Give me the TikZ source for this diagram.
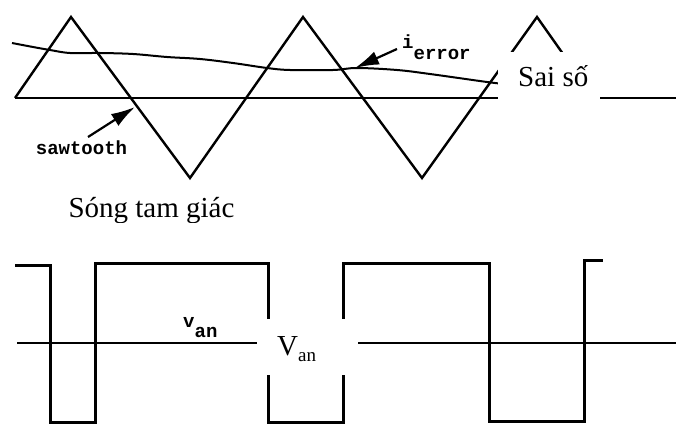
\documentclass[tikz,border=0pt]{standalone}
\usepackage{fontspec}
\setmainfont{Liberation Serif}
\setmonofont{Liberation Mono}
\usetikzlibrary{arrows.meta}
\begin{document}
\begin{tikzpicture}[x=1pt,y=-1pt,
  tri/.style={line width=2.4pt,line join=miter},
  axisline/.style={line width=1.4pt},
  errline/.style={line width=2pt},
  sqw/.style={line width=3pt,line join=miter},
  ttlbl/.style={font=\fontsize{19}{19}\ttfamily\bfseries,inner sep=0pt},
  serlbl/.style={font=\fontsize{29}{30}\selectfont,inner sep=0pt},
  cover/.style={fill=white,draw=none},
  pointer/.style={line width=2.2pt,-{Latex[length=24pt,width=14pt]}}]
\useasboundingbox (0,0) rectangle (676,425);
% ---------- top: triangle carrier and error ----------
\draw[axisline] (15,98) -- (676,98);
\draw[tri] (15,98) -- (71,17) -- (190,178) -- (303,17) -- (422,178) -- (537,17) -- (580,78);
\draw[errline] plot[smooth,tension=0.6] coordinates {(12,43) (33,47) (50,50) (70,53) (100,53) (133,54) (167,57) (200,59) (233,63) (267,68) (290,70) (333,70) (357,68) (397,70) (430,74) (487,82) (505,84)};
\fill[cover] (498,52) rectangle (600,99.5);
\node[serlbl,anchor=base west] (saiso) at (518,87) {Sai số};
% labels of the original figure
\node[ttlbl] (saw) at (81.5,148) {sawtooth};
\coordinate (sawtail) at (88,137);
\coordinate (sawtip) at (135,107);
\draw[pointer] (sawtail) -- (sawtip);
\node[ttlbl,anchor=base west] (ierr) at (402,49) {i\raisebox{-11pt}{error}};
\coordinate (errtail) at (397,49);
\coordinate (errtip) at (355,68);
\draw[pointer] (errtail) -- (errtip);
% caption of the carrier
\begin{scope}
\clip (0,180) rectangle (676,222);
\node[serlbl,anchor=base] (song) at (151.5,217) {Sóng tam giác};
\end{scope}
% ---------- bottom: output voltage ----------
\draw[axisline] (17,343) -- (676,343);
\draw[sqw] (15,265) -- (50,265) -- (50,422) -- (95,422) -- (95,263) -- (268,263) -- (268,422) -- (343,422) -- (343,263) -- (489,263) -- (489,421) -- (584,421) -- (584,260) -- (603,260);
\fill[cover] (257,319) rectangle (358,375);
\node[ttlbl,anchor=base west] (van) at (183,327) {v\raisebox{-10pt}{an}};
\node[serlbl,anchor=base west] (Van) at (277,355) {V{\fontsize{19}{19}\selectfont\raisebox{-6pt}{an}}};
\end{tikzpicture}
\end{document}
